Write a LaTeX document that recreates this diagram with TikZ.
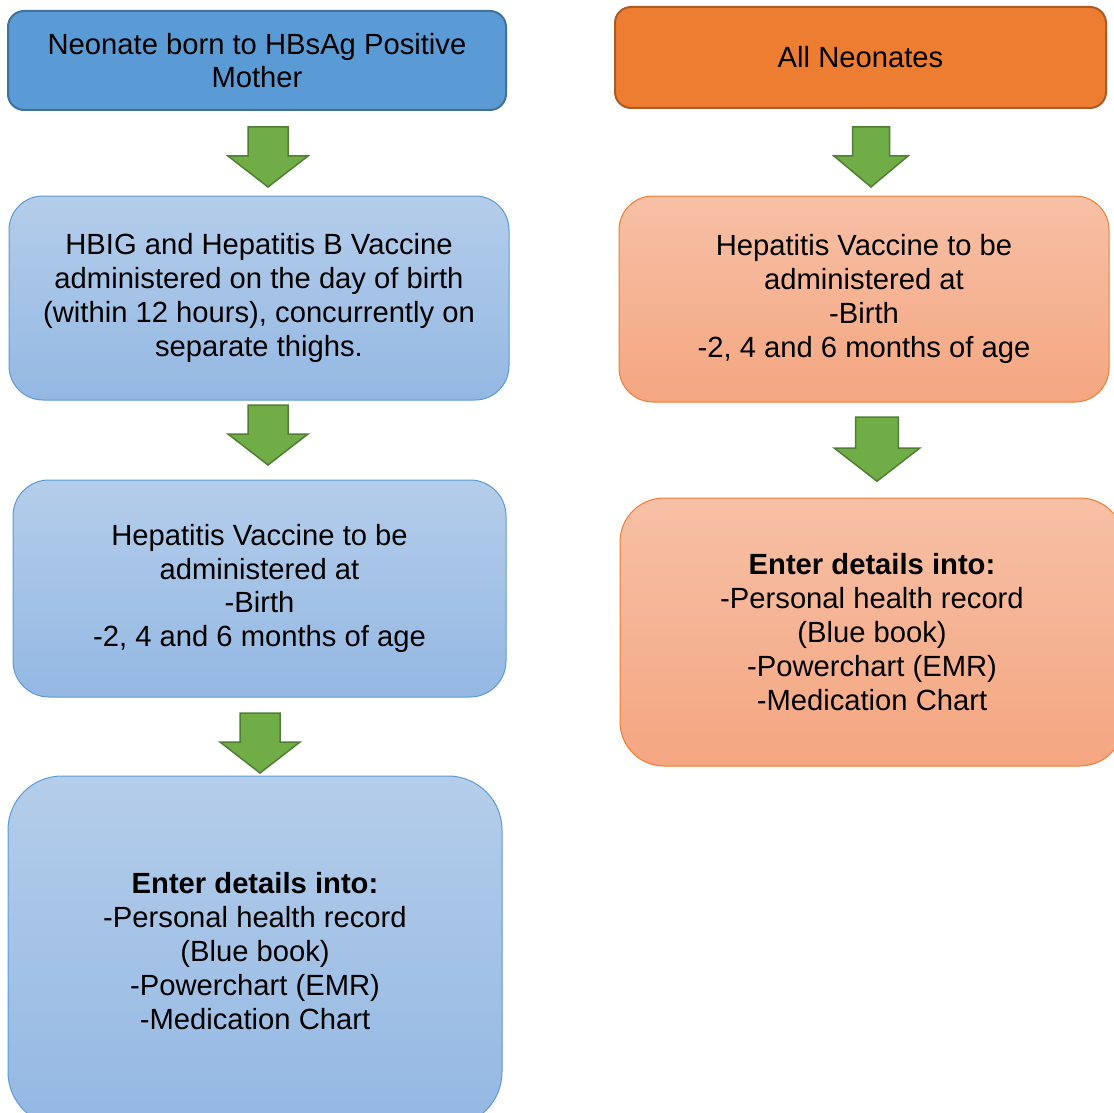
\documentclass[tikz,border=0pt]{standalone}
\usepackage{fontspec}
\setmainfont{Liberation Sans}
\definecolor{hdblue}{HTML}{5B9BD5}
\definecolor{hdblueline}{HTML}{41719C}
\definecolor{hdorange}{HTML}{ED7D31}
\definecolor{hdorangeline}{HTML}{AE5A21}
\definecolor{bluetop}{HTML}{B4CDEA}
\definecolor{bluebot}{HTML}{94B8E3}
\definecolor{orangetop}{HTML}{F7C0A6}
\definecolor{orangebot}{HTML}{F4A680}
\definecolor{arrowgreen}{HTML}{70AD47}
\definecolor{arrowline}{HTML}{507E32}
\tikzset{
  boxtext/.style={align=center, inner sep=0pt, font=\fontsize{14.6}{16.9}\selectfont},
  header/.style={boxtext, draw, line width=1pt, rounded corners=8pt},
  bluebox/.style={boxtext, draw=hdblue, line width=0.5pt, top color=bluetop, bottom color=bluebot},
  orangebox/.style={boxtext, draw=hdorange, line width=0.5pt, top color=orangetop, bottom color=orangebot},
  blockarrow/.style={fill=arrowgreen, draw=arrowline, line width=0.75pt, line join=miter},
  greenarrow/.pic={
    \draw[blockarrow] (-20,0) -- (20,0) -- (20,29) -- (40,29) -- (0,60) -- (-40,29) -- (-20,29) -- cycle;
  }
}
\begin{document}
\begin{tikzpicture}[x=0.5pt,y=-0.5pt]
\clip (0,0) rectangle (1114,1113);
% left column
\node[header, fill=hdblue, draw=hdblueline, minimum width=249pt, minimum height=49.5pt] (hbsag) at (257,60.5)
  {Neonate born to HBsAg Positive\\Mother};
\node[bluebox, rounded corners=17pt, minimum width=250pt, minimum height=102pt] (hbig) at (259,298)
  {HBIG and Hepatitis B Vaccine\\administered on the day of birth\\(within 12 hours), concurrently on\\separate thighs.};
\node[bluebox, rounded corners=18pt, minimum width=246.5pt, minimum height=108.5pt] (vacL) at (259.5,588.5)
  {Hepatitis Vaccine to be\\administered at\\-Birth\\-2, 4 and 6 months of age};
\node[bluebox, rounded corners=27pt, minimum width=247pt, minimum height=175pt] (recL) at (255,951)
  {\textbf{Enter details into:}\\-Personal health record\\(Blue book)\\-Powerchart (EMR)\\-Medication Chart};
% right column
\node[header, fill=hdorange, draw=hdorangeline, minimum width=245.5pt, minimum height=50.5pt] (allneo) at (860.5,57.5)
  {All Neonates};
\node[orangebox, rounded corners=17pt, minimum width=245pt, minimum height=103pt] (vacR) at (864,299)
  {Hepatitis Vaccine to be\\administered at\\-Birth\\-2, 4 and 6 months of age};
\node[orangebox, rounded corners=22pt, minimum width=252pt, minimum height=134pt] (recR) at (872,632)
  {\textbf{Enter details into:}\\-Personal health record\\(Blue book)\\-Powerchart (EMR)\\-Medication Chart};
% draw arrows
\coordinate (a1) at (268,127);
\coordinate (a2) at (268,405);
\coordinate (a3) at (260,713);
\coordinate (a4) at (871,127);
\coordinate (a5) at (877,417);
\pic at (a1) {greenarrow};
\pic at (a2) {greenarrow};
\pic at (a3) {greenarrow};
\pic[xscale=0.925] at (a4) {greenarrow};
\pic[scale=1.07] at (a5) {greenarrow};
\end{tikzpicture}
\end{document}
